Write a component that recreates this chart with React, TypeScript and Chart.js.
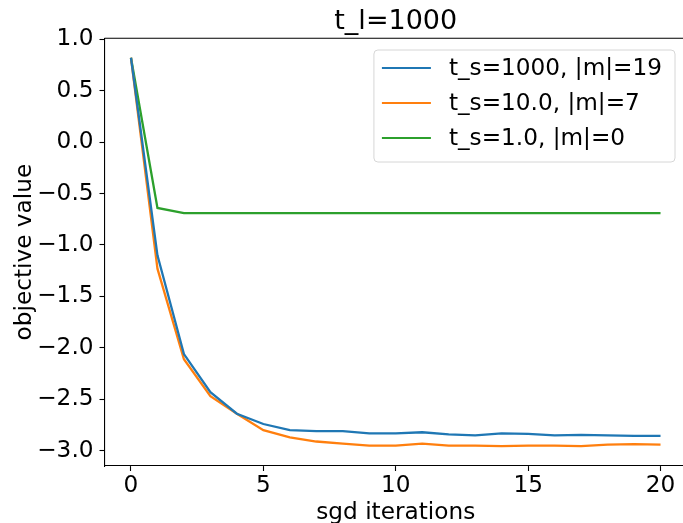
import React, { useEffect, useRef } from "react";
import { Chart, registerables } from "chart.js";

Chart.register(...registerables);

const iterations = [0, 1, 2, 3, 4, 5, 6, 7, 8, 9, 10, 11, 12, 13, 14, 15, 16, 17, 18, 19, 20];
const seriesA = [0.82, -1.10, -2.06, -2.43, -2.64, -2.74, -2.80, -2.81, -2.81, -2.83, -2.83, -2.82, -2.84, -2.85, -2.83, -2.835, -2.85, -2.845, -2.85, -2.855, -2.855];
const seriesB = [0.82, -1.23, -2.11, -2.47, -2.64, -2.80, -2.87, -2.91, -2.93, -2.95, -2.95, -2.93, -2.95, -2.95, -2.955, -2.95, -2.95, -2.955, -2.94, -2.935, -2.94];
const seriesC = [0.82, -0.64, -0.69, -0.69, -0.69, -0.69, -0.69, -0.69, -0.69, -0.69, -0.69, -0.69, -0.69, -0.69, -0.69, -0.69, -0.69, -0.69, -0.69, -0.69, -0.69];
const seriesLabels = ["t_s=1000, |m|=19", "t_s=10.0, |m|=7", "t_s=1.0, |m|=0"];
const seriesColors = ["#1f77b4", "#ff7f0e", "#2ca02c"];
const xTickValues = [0, 5, 10, 15, 20];
const yTickValues = [-3.0, -2.5, -2.0, -1.5, -1.0, -0.5, 0.0, 0.5, 1.0];
const titleText = "t_l=1000";
const xTitle = "sgd iterations";
const yTitle = "objective value";

const FONT = "'DejaVu Sans', sans-serif";
const FS = 23.2;
const TITLE_FS = 27;

const frameAndLegend = {
  id: "frameAndLegend",
  afterDraw(chart: any) {
    const { ctx, chartArea } = chart;
    ctx.save();
    ctx.font = `${TITLE_FS}px ${FONT}`;
    ctx.fillStyle = "#000";
    ctx.textAlign = "center";
    ctx.textBaseline = "alphabetic";
    ctx.fillText(titleText, (chartArea.left + chartArea.right) / 2, chartArea.top - 9.8);
    ctx.restore();
  },
  afterDatasetsDraw(chart: any) {
    const { ctx, chartArea } = chart;
    ctx.save();
    ctx.strokeStyle = "#000";
    ctx.lineWidth = 1.1;
    ctx.beginPath();
    ctx.moveTo(chartArea.left, chartArea.top);
    ctx.lineTo(chartArea.right, chartArea.top);
    ctx.lineTo(chartArea.right, chartArea.bottom);
    ctx.stroke();

    ctx.font = `${FS}px ${FONT}`;
    const ds = chart.data.datasets;
    let maxW = 0;
    ds.forEach((d: any) => {
      maxW = Math.max(maxW, ctx.measureText(d.label).width);
    });
    const boxW = 75 + maxW + 13;
    const rowH = 35;
    const boxH = 18 + rowH * (ds.length - 1) + 24;
    const bx = chartArea.right - 12 - boxW;
    const by = chartArea.top + 11.7;
    const r = 4;
    ctx.beginPath();
    ctx.moveTo(bx + r, by);
    ctx.lineTo(bx + boxW - r, by);
    ctx.arcTo(bx + boxW, by, bx + boxW, by + r, r);
    ctx.lineTo(bx + boxW, by + boxH - r);
    ctx.arcTo(bx + boxW, by + boxH, bx + boxW - r, by + boxH, r);
    ctx.lineTo(bx + r, by + boxH);
    ctx.arcTo(bx, by + boxH, bx, by + boxH - r, r);
    ctx.lineTo(bx, by + r);
    ctx.arcTo(bx, by, bx + r, by, r);
    ctx.closePath();
    ctx.fillStyle = "rgba(255,255,255,0.8)";
    ctx.fill();
    ctx.strokeStyle = "#d6d6d6";
    ctx.lineWidth = 1;
    ctx.stroke();

    ds.forEach((d: any, i: number) => {
      const cy = by + 18 + i * rowH;
      ctx.strokeStyle = d.borderColor;
      ctx.lineWidth = 2.2;
      ctx.beginPath();
      ctx.moveTo(bx + 8, cy);
      ctx.lineTo(bx + 57, cy);
      ctx.stroke();
      ctx.fillStyle = "#000";
      ctx.textBaseline = "middle";
      ctx.textAlign = "left";
      ctx.fillText(d.label, bx + 75, cy + 1);
    });
    ctx.restore();
  },
};

export default function App() {
  const ref = useRef<HTMLCanvasElement | null>(null);
  useEffect(() => {
    if (!ref.current) return;
    const seriesValues = [seriesA, seriesB, seriesC];
    const chart = new Chart(ref.current, {
      type: "line",
      data: {
        datasets: seriesValues.map((vals, k) => ({
          label: seriesLabels[k],
          data: iterations.map((x, i) => ({ x, y: vals[i] })),
          borderColor: seriesColors[k],
          backgroundColor: seriesColors[k],
          borderWidth: 2.3,
          pointRadius: 0,
          tension: 0,
          fill: false,
        })),
      },
      options: {
        animation: false,
        responsive: false,
        devicePixelRatio: 1,
        layout: { padding: { left: 0, right: 13, top: 38.3, bottom: 0 } },
        plugins: {
          legend: { display: false },
          tooltip: { enabled: false },
          title: { display: false },
        },
        scales: {
          x: {
            type: "linear",
            min: -1,
            max: 21,
            afterBuildTicks: (scale: any) => {
              scale.ticks = xTickValues.map((v) => ({ value: v }));
            },
            afterFit: (scale: any) => {
              scale.height = 64;
            },
            ticks: {
              color: "#000",
              font: { family: FONT, size: FS },
              padding: 1.5,
              maxRotation: 0,
              autoSkip: false,
              callback: (v: any) => String(v),
            },
            grid: {
              display: true,
              drawOnChartArea: false,
              drawTicks: true,
              tickLength: 5,
              tickColor: "#000",
              tickWidth: 1.1,
            },
            border: { display: true, color: "#000", width: 1.1 },
            title: {
              display: true,
              text: xTitle,
              color: "#000",
              font: { family: FONT, size: FS },
              padding: { top: 0, bottom: 3.4 },
            },
          },
          y: {
            type: "linear",
            min: -3.148,
            max: 1.009,
            afterBuildTicks: (scale: any) => {
              scale.ticks = yTickValues.map((v) => ({ value: v }));
            },
            afterFit: (scale: any) => {
              scale.width = 104.5;
            },
            ticks: {
              color: "#000",
              font: { family: FONT, size: FS },
              padding: 6,
              autoSkip: false,
              callback: (v: any) => Number(v).toFixed(1).replace("-", "\u2212"),
            },
            grid: {
              display: true,
              drawOnChartArea: false,
              drawTicks: true,
              tickLength: 5,
              tickColor: "#000",
              tickWidth: 1.1,
            },
            border: { display: true, color: "#000", width: 1.1 },
            title: {
              display: true,
              text: yTitle,
              color: "#000",
              font: { family: FONT, size: FS },
              padding: { top: 11, bottom: 0 },
            },
          },
        },
      },
      plugins: [frameAndLegend],
    } as any);
    return () => chart.destroy();
  }, []);

  return (
    <div
      style={{
        position: "fixed",
        left: 0,
        top: 0,
        width: 683,
        height: 523,
        overflow: "hidden",
        background: "#fff",
      }}
    >
      <canvas ref={ref} width={700} height={530} style={{ display: "block", width: 700, height: 530 }} />
    </div>
  );
}
